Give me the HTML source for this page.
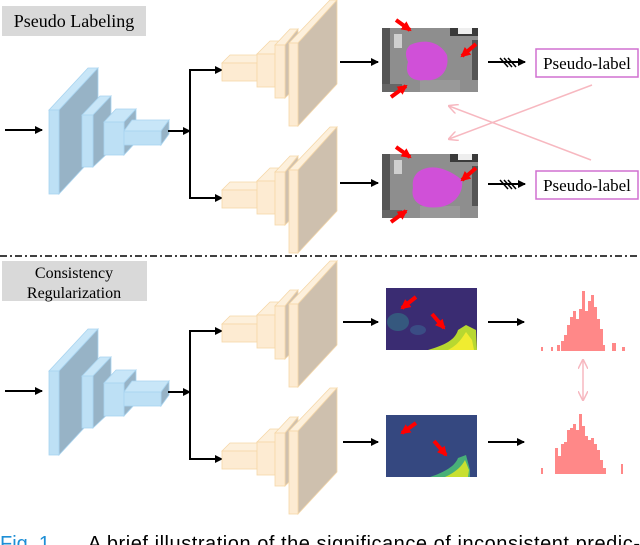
<!DOCTYPE html>
<html><head><meta charset="utf-8"><style>
html,body{margin:0;padding:0;background:#fff;}
svg{display:block;}
</style></head><body>
<svg width="640" height="545" viewBox="0 0 640 545" xmlns="http://www.w3.org/2000/svg">
<defs>
<marker id="ah" markerWidth="8" markerHeight="8" refX="7" refY="4" orient="auto" markerUnits="userSpaceOnUse">
<path d="M0,0 L8,4 L0,8 z" fill="#000"/></marker>
<marker id="ph" markerWidth="10" markerHeight="10" refX="9" refY="5" orient="auto-start-reverse" markerUnits="userSpaceOnUse">
<path d="M0,0 L10,5 L0,10" fill="none" stroke="#f7b8c0" stroke-width="1.5"/></marker>
<marker id="rh" markerWidth="10" markerHeight="10" refX="8" refY="5" orient="auto" markerUnits="userSpaceOnUse">
<path d="M0,0 L10,5 L0,10 z" fill="#f00"/></marker>
<g id="enc" stroke="#a8d4f0" stroke-width="0.8">
<polygon points="49,110 88,68 98,68 59,110" fill="#c8e6f8"/>
<polygon points="59,110 98,68 98,152 59,194" fill="#97b3c6"/>
<rect x="49" y="110" width="10" height="84" fill="#bde0f5"/>
<polygon points="82,115 100,96 111,96 93,115" fill="#c8e6f8"/>
<polygon points="93,115 111,96 111,150 93,167" fill="#97b3c6"/>
<rect x="82" y="115" width="11" height="52" fill="#bde0f5"/>
<polygon points="104,122 116,109 136,109 124,122" fill="#c8e6f8"/>
<polygon points="124,122 136,109 136,142 124,155" fill="#97b3c6"/>
<rect x="104" y="122" width="20" height="33" fill="#bde0f5"/>
<polygon points="124,131 132,120 169,120 161,131" fill="#c8e6f8"/>
<polygon points="161,131 169,120 169,134 161,145" fill="#97b3c6"/>
<rect x="124" y="131" width="37" height="14" fill="#bde0f5"/>
</g>
<g id="dec" stroke="#f5d7a8" stroke-width="0.8">
<polygon points="222,63 230,55 262,55 257,63" fill="#fdf0dc"/>
<rect x="222" y="63" width="35" height="18" fill="#fdebd2"/>
<polygon points="257,54 270,41 283,41 275,54" fill="#fdf0dc"/>
<rect x="257" y="54" width="18" height="33" fill="#fdebd2"/>
<polygon points="275,45 290,29 298,29 285,45" fill="#fdf0dc"/>
<polygon points="285,45 298,29 298,85 285,98" fill="#cfc0ae"/>
<rect x="275" y="45" width="10" height="53" fill="#fdebd2"/>
<polygon points="289,43 330,0 337,0 298,43" fill="#fdf0dc"/>
<polygon points="298,43 337,0 337,84 298,126" fill="#cec0ae"/>
<rect x="289" y="43" width="9" height="83" fill="#fdebd2"/>
</g>
<g id="arch">
<line x1="5" y1="130" x2="42" y2="130" stroke="#000" stroke-width="2" marker-end="url(#ah)"/>
<use href="#enc"/>
<line x1="168" y1="131" x2="190" y2="131" stroke="#000" stroke-width="2" marker-end="url(#ah)"/>
<polyline points="222,70 190,70 190,198 222,198" fill="none" stroke="#000" stroke-width="2"/>
<line x1="212" y1="70" x2="222" y2="70" stroke="#000" stroke-width="2" marker-end="url(#ah)"/>
<line x1="212" y1="198" x2="222" y2="198" stroke="#000" stroke-width="2" marker-end="url(#ah)"/>
<use href="#dec"/>
<use href="#dec" y="127"/>
</g>
<g id="mri">
<rect x="382" y="28" width="96" height="64" fill="#8e8e8e"/>
<rect x="382" y="28" width="8" height="64" fill="#555"/>
<rect x="394" y="34" width="8" height="14" fill="#cfcfcf"/>
<rect x="450" y="28" width="28" height="8" fill="#3a3a3a"/>
<rect x="458" y="28" width="14" height="6" fill="#eee"/>
<rect x="472" y="40" width="6" height="40" fill="#555"/>
<rect x="382" y="84" width="20" height="8" fill="#666"/>
<rect x="420" y="80" width="40" height="12" fill="#999"/>
</g>
<g id="harrow">
<line x1="488" y1="62" x2="525" y2="62" stroke="#000" stroke-width="2" marker-end="url(#ah)"/>
<path d="M500,58 L508,67 M504,58 L512,67 M508,58 L516,67" stroke="#000" stroke-width="1.5"/>
</g>
</defs>

<rect x="2" y="6" width="144" height="30" fill="#d9d9d9"/>
<text x="74" y="27" text-anchor="middle" font-family="Liberation Serif, serif" font-size="18" fill="#000">Pseudo Labeling</text>

<use href="#arch"/>
<line x1="340" y1="62" x2="378" y2="62" stroke="#000" stroke-width="2" marker-end="url(#ah)"/>
<line x1="340" y1="183" x2="378" y2="183" stroke="#000" stroke-width="2" marker-end="url(#ah)"/>

<use href="#mri"/>
<path d="M410,45 C425,38 440,42 447,55 C450,70 440,82 425,80 C412,82 404,75 408,62 C405,55 405,50 410,45 z" fill="#d050d8"/>
<use href="#mri" y="126"/>
<path d="M418,172 C432,162 450,170 462,180 C464,192 455,205 440,207 C420,210 410,200 413,188 C412,180 414,176 418,172 z" fill="#d050d8"/>
<g stroke="#f00" stroke-width="4">
<line x1="396" y1="20" x2="410" y2="30" marker-end="url(#rh)"/>
<line x1="476" y1="44" x2="462" y2="56" marker-end="url(#rh)"/>
<line x1="391" y1="97" x2="406" y2="86" marker-end="url(#rh)"/>
<line x1="396" y1="147" x2="410" y2="157" marker-end="url(#rh)"/>
<line x1="476" y1="168" x2="462" y2="180" marker-end="url(#rh)"/>
<line x1="391" y1="222" x2="406" y2="211" marker-end="url(#rh)"/>
</g>

<use href="#harrow"/>
<use href="#harrow" y="122"/>
<rect x="536" y="49" width="102" height="28" fill="#fff" stroke="#d070d0" stroke-width="1.5"/>
<text x="587" y="69" text-anchor="middle" font-family="Liberation Serif, serif" font-size="17">Pseudo-label</text>
<rect x="536" y="171" width="102" height="28" fill="#fff" stroke="#d070d0" stroke-width="1.5"/>
<text x="587" y="191" text-anchor="middle" font-family="Liberation Serif, serif" font-size="17">Pseudo-label</text>

<line x1="592" y1="85" x2="449" y2="139" stroke="#f7b8c0" stroke-width="1.5" marker-end="url(#ph)"/>
<line x1="591" y1="160" x2="449" y2="106" stroke="#f7b8c0" stroke-width="1.5" marker-end="url(#ph)"/>

<line x1="0" y1="256" x2="640" y2="256" stroke="#000" stroke-width="1.5" stroke-dasharray="7,3,2,3"/>

<rect x="2" y="261" width="145" height="40" fill="#d9d9d9"/>
<text x="74" y="278" text-anchor="middle" font-family="Liberation Serif, serif" font-size="16">Consistency</text>
<text x="74" y="298" text-anchor="middle" font-family="Liberation Serif, serif" font-size="16">Regularization</text>

<use href="#arch" y="261"/>
<line x1="343" y1="322" x2="378" y2="322" stroke="#000" stroke-width="2" marker-end="url(#ah)"/>
<line x1="343" y1="442" x2="378" y2="442" stroke="#000" stroke-width="2" marker-end="url(#ah)"/>

<rect x="386" y="288" width="91" height="62" fill="#3a2c72"/>
<ellipse cx="398" cy="322" rx="11" ry="9" fill="#35587e"/>
<ellipse cx="418" cy="330" rx="8" ry="5" fill="#3a4c84"/>
<path d="M428,350 C445,345 455,340 458,330 L466,325 L476,330 L477,350 z" fill="#b8d830"/>
<path d="M448,350 C458,345 462,338 466,332 L472,340 L474,350 z" fill="#f0ec30"/>
<rect x="386" y="415" width="91" height="62" fill="#354880"/>
<path d="M430,477 C445,472 455,466 458,458 L466,455 L470,470 L470,477 z" fill="#48b078"/>
<path d="M445,477 C456,472 462,466 465,460 L469,470 L468,477 z" fill="#c8e030"/>
<g stroke="#f00" stroke-width="4">
<line x1="416" y1="297" x2="402" y2="308" marker-end="url(#rh)"/>
<line x1="432" y1="314" x2="444" y2="328" marker-end="url(#rh)"/>
<line x1="416" y1="423" x2="402" y2="433" marker-end="url(#rh)"/>
<line x1="434" y1="441" x2="446" y2="455" marker-end="url(#rh)"/>
</g>

<line x1="488" y1="322" x2="524" y2="322" stroke="#000" stroke-width="2" marker-end="url(#ah)"/>
<line x1="488" y1="442" x2="524" y2="442" stroke="#000" stroke-width="2" marker-end="url(#ah)"/>

<g fill="#f88">
<path d="M541,351 h2 v-4 h-2z M551,351 h2 v-4 h-2z M557,351 h3 v-6 h-3z M561,351 h3 v-10 h-3z M564,351 h3 v-16 h-3z M567,351 h3 v-26 h-3z M570,351 h3 v-34 h-3z M573,351 h3 v-40 h-3z M576,351 h3 v-32 h-3z M579,351 h3 v-42 h-3z M582,351 h3 v-60 h-3z M585,351 h3 v-40 h-3z M588,351 h3 v-50 h-3z M591,351 h3 v-56 h-3z M594,351 h3 v-44 h-3z M597,351 h3 v-32 h-3z M600,351 h3 v-22 h-3z M603,351 h2 v-6 h-2z M612,351 h4 v-8 h-4z M622,351 h3 v-4 h-3z"/>
<path d="M541,474 h2 v-6 h-2z M555,474 h3 v-26 h-3z M558,474 h3 v-18 h-3z M561,474 h3 v-30 h-3z M564,474 h3 v-32 h-3z M567,474 h3 v-44 h-3z M570,474 h3 v-46 h-3z M573,474 h3 v-50 h-3z M576,474 h3 v-44 h-3z M579,474 h3 v-60 h-3z M582,474 h3 v-48 h-3z M585,474 h3 v-38 h-3z M588,474 h3 v-34 h-3z M591,474 h3 v-36 h-3z M594,474 h3 v-30 h-3z M597,474 h3 v-24 h-3z M600,474 h3 v-14 h-3z M603,474 h3 v-6 h-3z M621,474 h2 v-10 h-2z"/>
</g>
<line x1="583" y1="360" x2="583" y2="400" stroke="#f7b8c0" stroke-width="1.5" marker-end="url(#ph)" marker-start="url(#ph)"/>

<text x="0" y="550" font-family="Liberation Sans, sans-serif" font-size="20" fill="#1e8fd6">Fig. 1.</text>
<text x="88" y="550" font-family="Liberation Sans, sans-serif" font-size="20" fill="#000" textLength="552" lengthAdjust="spacing">A brief illustration of the significance of inconsistent predic-</text>
</svg>
</body></html>
